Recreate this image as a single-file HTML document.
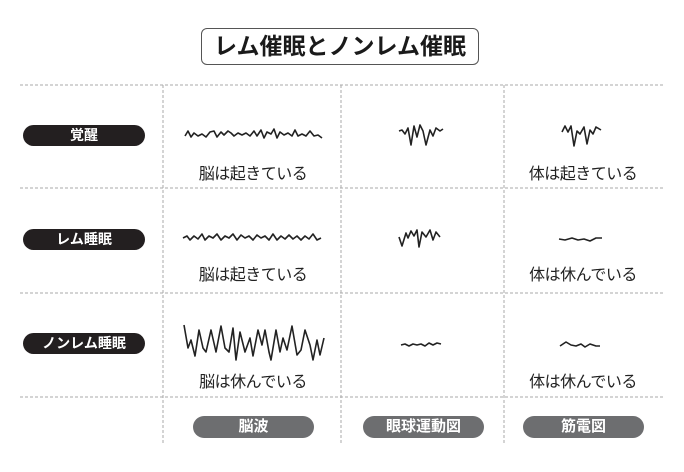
<!DOCTYPE html>
<html><head><meta charset="utf-8"><style>
body{margin:0;width:684px;height:472px;background:#fff;position:relative;overflow:hidden;font-family:"Liberation Sans","Noto Sans CJK JP",sans-serif}
.a{position:absolute}
.title{left:201px;top:28px;width:278px;height:37px;border:1.3px solid #555;border-radius:6px;box-sizing:border-box;text-align:center;font-size:23px;font-weight:bold;line-height:35px;color:#1a1a1a;letter-spacing:0px}
.pill{background:#231f20;color:#fff;font-weight:bold;font-size:14px;text-align:center;border-radius:11px;height:21px;line-height:21px;width:122px;left:23px}
.gp{background:#6d6e70;color:#fff;font-weight:bold;font-size:15px;text-align:center;border-radius:11px;height:22px;line-height:22px;width:121px;top:416px}
.t{font-size:16px;color:#222;text-align:center;width:160px;letter-spacing:-0.5px}
</style></head><body>
<div class="a title">レム催眠とノンレム催眠</div>
<svg class="a" style="left:0;top:0" width="684" height="472">
<g stroke="#aaa" stroke-width="1" stroke-dasharray="3,2" fill="none">
<line x1="20" y1="85" x2="664" y2="85"/><line x1="20" y1="188" x2="664" y2="188"/>
<line x1="20" y1="293" x2="664" y2="293"/><line x1="20" y1="397" x2="664" y2="397"/>
<line x1="163" y1="85" x2="163" y2="445"/><line x1="341" y1="85" x2="341" y2="445"/><line x1="504" y1="85" x2="504" y2="445"/>
</g>
<g stroke="#222" stroke-width="1.6" fill="none" stroke-linejoin="round">
<polyline points="185,136 188,131 191,137 194,133 198,136 202,134 206,137 210,132 214,131 217,137 221,132 224,135 228,131 231,133 234,136 238,133 242,135 246,133 250,136 254,131 257,136 261,130 264,138 267,132 271,134 274,129 277,138 280,132 284,135 288,133 292,136 295,130 298,136 302,134 306,136 310,131 314,136 318,135 322,138"/>
<polyline points="399,131 402,130 405,134 408,128 411,145 414,126 417,137 420,125 423,131 426,145 430,130 433,136 436,128 440,131 443,129"/>
<polyline points="562,132 565,126 568,132 571,126 574,146 577,131 580,134 584,127 587,144 590,130 593,134 596,127 601,130"/>
<polyline points="183,238 187,236 190,240 194,236 198,239 202,234 205,240 209,236 213,238 217,234 221,240 225,236 229,238 233,234 237,240 241,235 245,238 249,236 253,240 257,235 261,238 265,236 269,240 273,234 277,240 281,236 285,239 289,235 293,239 297,236 301,240 305,236 309,239 313,234 317,240 321,238"/>
<polyline points="399,237 402,246 406,233 408,238 411,231 414,236 417,230 419,247 422,232 426,237 430,230 433,240 436,232 440,237"/>
<polyline points="559,239 565,240 572,238 578,240 584,239 590,241 596,238 602,238"/>
<polyline points="184,325 188,348 191,340 195,356 199,330 203,348 206,352 211,330 216,352 221,326 225,348 229,352 233,328 236,360 240,332 245,352 250,338 253,356 258,330 262,345 265,330 269,352 271,360 276,330 280,352 283,338 287,350 292,326 297,355 301,350 305,330 310,345 313,360 317,340 320,355 324,338"/>
<polyline points="401,345 405,344 409,346 413,344 417,345 421,344 425,346 429,343 433,345 437,343 441,344"/>
<polyline points="560,346 566,342 571,345 576,346 581,344 585,347 590,344 596,346 600,346"/>
</g>
</svg>
<div class="a pill" style="top:125px">覚醒</div>
<div class="a pill" style="top:229px">レム睡眠</div>
<div class="a pill" style="top:333px">ノンレム睡眠</div>
<div class="a t" style="left:173px;top:160px">脳は起きている</div>
<div class="a t" style="left:503px;top:160px">体は起きている</div>
<div class="a t" style="left:173px;top:261px">脳は起きている</div>
<div class="a t" style="left:503px;top:261px">体は休んでいる</div>
<div class="a t" style="left:173px;top:368px">脳は休んでいる</div>
<div class="a t" style="left:503px;top:368px">体は休んでいる</div>
<div class="a gp" style="left:193px">脳波</div>
<div class="a gp" style="left:363px">眼球運動図</div>
<div class="a gp" style="left:523px">筋電図</div>
</body></html>
